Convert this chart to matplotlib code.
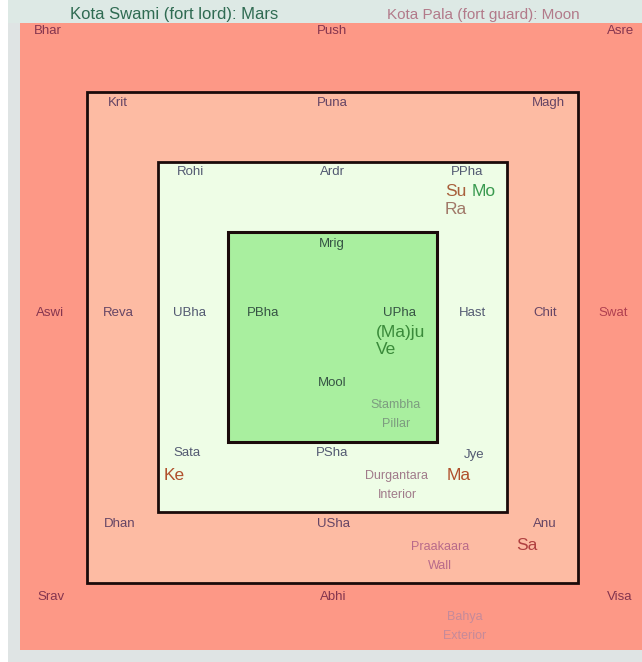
import matplotlib
matplotlib.use("Agg")
import matplotlib.pyplot as plt
from matplotlib.patches import Rectangle

plt.rcParams['font.family'] = ['Liberation Sans', 'DejaVu Sans']

# ---- data ----
title_left = "Kota Swami (fort lord): Mars"
title_right = "Kota Pala (fort guard): Moon"

# rings: name, fill colour, border width
ring_names = ["Bahya", "Praakaara", "Durgantara", "Stambha"]
ring_english = ["Exterior", "Wall", "Interior", "Pillar"]
ring_fill = ["#fd9886", "#fdbba3", "#eefde6", "#a9ef9f"]
ring_edge_lw = [0, 2.0, 2.0, 2.2]
# ring bounds (x0, y0, x1, y1) in pixel layout
ring_bounds = [(20, 23, 642, 650), (87, 92, 578, 583),
               (158, 162, 507, 512), (228, 232, 437, 442)]

# nakshatras by ring (outer to inner) with their layout positions
nak_outer = ["Bhar", "Push", "Asre", "Aswi", "Swat", "Srav", "Abhi", "Visa"]
nak_outer_pos = [(48, 31), (332, 31), (621, 31), (50, 313), (613, 313),
                 (51, 597), (333, 597), (620, 597)]
nak_wall = ["Krit", "Puna", "Magh", "Reva", "Chit", "Dhan", "USha", "Anu"]
nak_wall_pos = [(118, 103), (332, 103), (548, 103), (118, 313), (545, 313),
                (120, 524), (333, 524), (545, 524)]
nak_interior = ["Rohi", "Ardr", "PPha", "UBha", "Hast", "Sata", "PSha", "Jye"]
nak_interior_pos = [(190, 172), (332, 172), (467, 172), (190, 313), (473, 313),
                    (187, 453), (332, 453), (474, 455)]
nak_pillar = ["Mrig", "PBha", "UPha", "Mool"]
nak_pillar_pos = [(332, 244), (263, 313), (400, 313), (332, 383)]

# planets placed in nakshatras
planets = ["Su", "Mo", "Ra", "(Ma)ju", "Ve", "Ke", "Ma", "Sa"]
planet_pos = [(445, 192), (472, 192), (445, 210), (376, 332), (376, 350),
              (164, 475), (447, 476), (516, 546)]
planet_col = ["#a8603c", "#3a9a50", "#a07868", "#3a8a3a", "#3a8a3a",
              "#b0502c", "#b0502c", "#b04040"]

# ring name label positions
ring_label_pos = [(465, 617), (440, 547), (397, 476), (396, 405)]
ring_label_col = ["#c58a9a", "#b86a8a", "#a07a8a", "#7d9c80"]

# ---- drawing ----
W, H = 642, 662
fig = plt.figure(figsize=(W / 100, H / 100), dpi=100)
fig.patch.set_facecolor("white")
ax = fig.add_axes([0, 0, 1, 1])
ax.set_xlim(0, W)
ax.set_ylim(H, 0)
ax.axis("off")

ax.add_patch(Rectangle((8, 0), W - 8, H, facecolor="#dfe4e4", edgecolor="none"))
ax.add_patch(Rectangle((8, 0), W - 8, 23, facecolor="#dde9e5", edgecolor="none"))

for (x0, y0, x1, y1), fc, lw in zip(ring_bounds, ring_fill, ring_edge_lw):
    ax.add_patch(Rectangle((x0, y0), x1 - x0, y1 - y0, facecolor=fc,
                           edgecolor="#1a0a0a" if lw else "none", linewidth=lw))

ax.text(70, 15, title_left, fontsize=12, color="#2f6b52", ha="left", va="center")
ax.text(387, 15, title_right, fontsize=11, color="#b27a8a", ha="left", va="center")

groups = [(nak_outer, nak_outer_pos, "#85354f"),
          (nak_wall, nak_wall_pos, "#654565"),
          (nak_interior, nak_interior_pos, "#535a72"),
          (nak_pillar, nak_pillar_pos, "#365444")]
for names, poss, col in groups:
    for n, (x, y) in zip(names, poss):
        c = "#b04050" if n == "Swat" else col
        ax.text(x, y, n, fontsize=9.5, color=c, ha="center", va="center")

for p, (x, y), c in zip(planets, planet_pos, planet_col):
    ax.text(x, y, p, fontsize=12.5, color=c, ha="left", va="center")

for rn, re_, (x, y), c in zip(ring_names, ring_english, ring_label_pos, ring_label_col):
    ax.text(x, y, rn, fontsize=9, color=c, ha="center", va="center")
    ax.text(x, y + 19, re_, fontsize=9, color=c, ha="center", va="center")

fig.savefig("out.png", dpi=100, facecolor=fig.get_facecolor())
